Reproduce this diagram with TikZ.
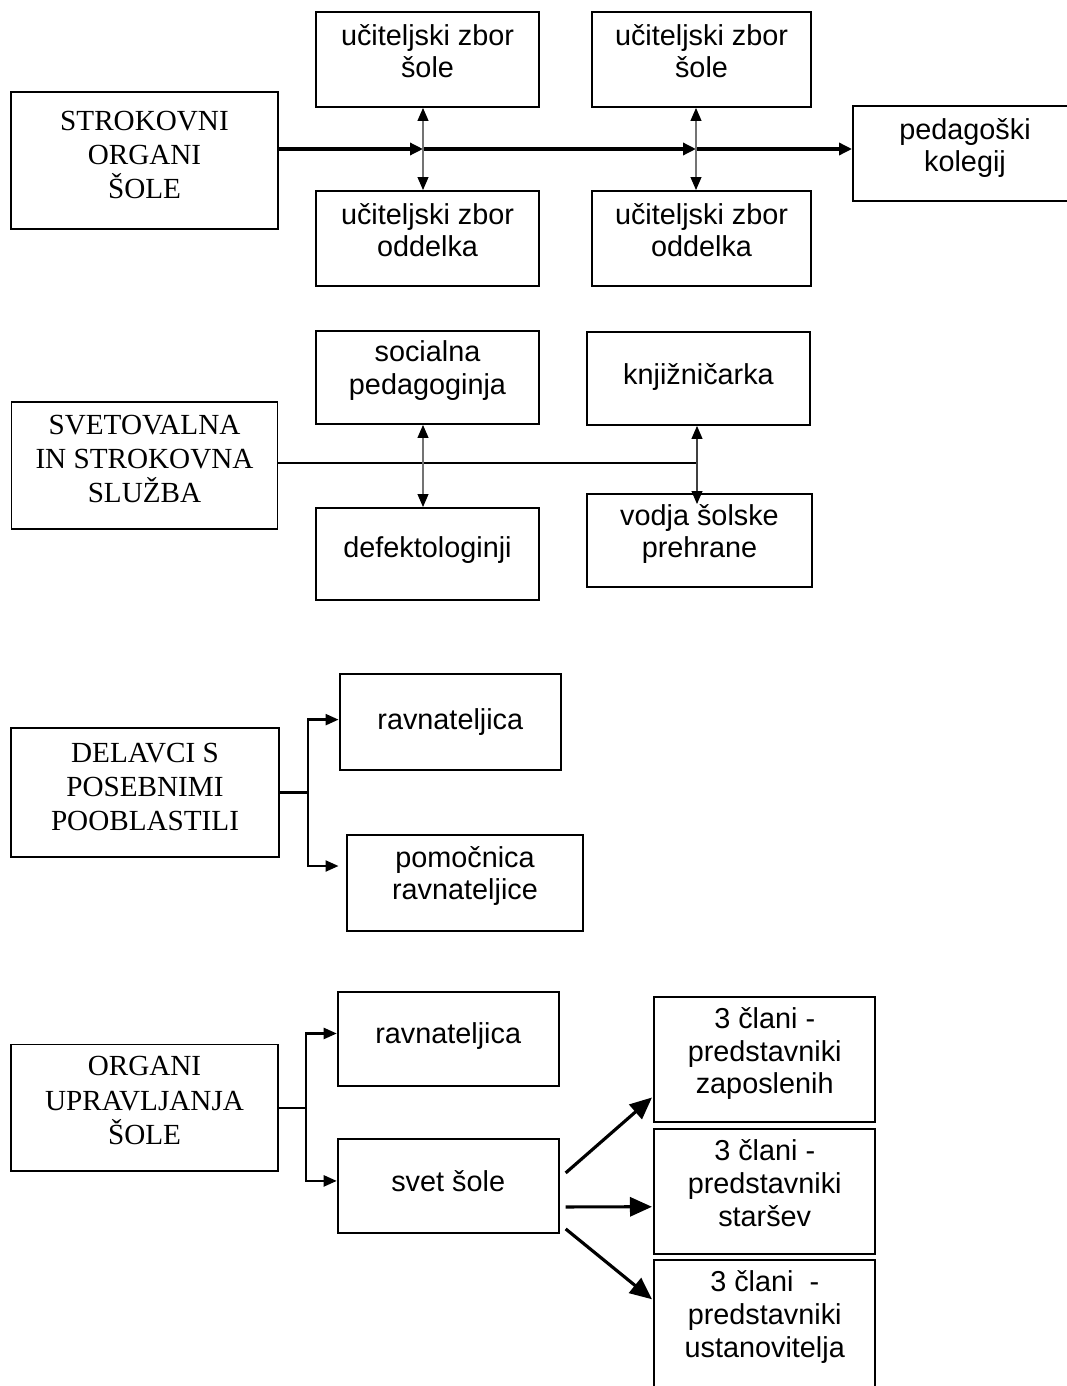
\documentclass[tikz,border=0pt]{standalone}
\usepackage{fontspec}
\usetikzlibrary{arrows.meta}
\newfontfamily\orgsans{Liberation Sans}
\newfontfamily\orgserif{Liberation Serif}

\begin{document}
\begin{tikzpicture}[
  x=0.2mm, y=-0.2mm,
  box/.style={draw=black, line width=1.1pt, inner sep=0pt, anchor=north, align=center, font=\orgsans\fontsize{16.4}{18.7}\selectfont},
  headbox/.style={box, font=\orgserif\fontsize{16.6}{19.6}\selectfont},
  oneline/.style={text height=10.4mm, text depth=8.6mm},
  twoline/.style={text height=13.2mm, text depth=5.8mm},
  threeline/.style={text height=19.4mm, text depth=5.6mm},
  mainline/.style={line width=2pt, -{Triangle[length=2.6mm, width=2.4mm]}},
  biarrow/.style={draw=black!55, line width=0.6pt, {Triangle[length=2.6mm, width=2.2mm, color=black]}-{Triangle[length=2.6mm, width=2.2mm, color=black]}},
  thinline/.style={draw=black, line width=1pt},
  branch/.style={draw=black, line width=1.3pt},
  arrowhead/.style={-{Triangle[length=2.6mm, width=2.2mm]}},
  bigarrow/.style={line width=1.8pt, -{Triangle[length=4.4mm, width=3.8mm]}}
]

\useasboundingbox (0,0) rectangle (1067,1386);

%% STROKOVNI ORGANI
\node[headbox, minimum width=53.4mm, text height=21.4mm, text depth=6mm] (strok) at (144.5,91) {STROKOVNI\\ORGANI\\ŠOLE};
\node[box, twoline, minimum width=44.6mm] (zbor1) at (427.5,11) {učiteljski zbor\\šole};
\node[box, twoline, minimum width=43.8mm] (zbor2) at (701.5,11) {učiteljski zbor\\šole};
\node[box, twoline, minimum width=44.6mm] (odd1) at (427.5,190) {učiteljski zbor\\oddelka};
\node[box, twoline, minimum width=43.8mm] (odd2) at (701.5,190) {učiteljski zbor\\oddelka};
\node[box, twoline, minimum width=44.8mm] (kolegij) at (965,105) {pedagoški\\kolegij};

% main line with two crossings
\coordinate (j1) at (423,149);
\coordinate (j2) at (696,149);
\draw[mainline] (strok.east |- j1) -- (j1);
\draw[mainline] (j1) -- (j2);
\draw[mainline] (j2) -- (kolegij.west |- j2);
\draw[biarrow] (zbor1.south -| j1) -- (odd1.north -| j1);
\draw[biarrow] (zbor2.south -| j2) -- (odd2.north -| j2);

%% SVETOVALNA SLUZBA
\node[headbox, minimum width=53.2mm, text height=20.2mm, text depth=5.2mm] (svet) at (144.5,401) {SVETOVALNA\\IN STROKOVNA\\SLUŽBA};
\node[box, minimum width=44.6mm, text height=12.7mm, text depth=5.9mm] (socped) at (427.5,330) {socialna\\pedagoginja};
\node[box, minimum width=44.6mm, text height=10.6mm, text depth=8mm] (knjiz) at (698.5,331) {knjižničarka};
\node[box, minimum width=44.6mm, text height=10mm, text depth=8.4mm] (defekt) at (427.5,507) {defektologinji};
\node[box, minimum width=45mm, text height=12.8mm, text depth=5.8mm] (prehrana) at (699.5,493) {vodja šolske\\prehrane};

\coordinate (s1) at (423,463);
\coordinate (s2) at (697,463);
\coordinate (s3) at (697,504);
\draw[thinline] (svet.east |- s1) -- (s2);
\draw[biarrow] (socped.south -| s1) -- (defekt.north -| s1);
\draw[biarrow, draw=black!75] (knjiz.south -| s2) -- (s3);

%% DELAVCI S POSEBNIMI POOBLASTILI
\node[headbox, minimum width=53.6mm, text height=20.6mm, text depth=5.2mm] (delavci) at (145,727) {DELAVCI S\\POSEBNIMI\\POOBLASTILI};
\node[box, minimum width=44.3mm, text height=11mm, text depth=8.1mm] (ravn1) at (450.3,673.4) {ravnateljica};
\node[box, minimum width=47.2mm, text height=13mm, text depth=6.2mm] (pomoc) at (465,834) {pomočnica\\ravnateljice};

\coordinate (d1) at (307.7,791);
\coordinate (d2) at (338.5,866);
\draw[branch] (delavci.east) -- (delavci.east -| d1);
\draw[branch, arrowhead] (delavci.east -| d1) |- ([yshift=0.5mm]ravn1.west);
\draw[branch, arrowhead] (delavci.east -| d1) |- (d2);

%% ORGANI UPRAVLJANJA
\node[headbox, minimum width=53.4mm, text height=20mm, text depth=5.3mm] (organi) at (144.5,1043.5) {ORGANI\\UPRAVLJANJA\\ŠOLE};
\node[box, minimum width=44.2mm, text height=10.3mm, text depth=8.5mm] (ravn2) at (448.2,991) {ravnateljica};
\node[box, minimum width=44.2mm, text height=10.5mm, text depth=8.4mm] (svetsole) at (448.2,1137.7) {svet šole};
\node[box, threeline, minimum width=44.3mm] (zapos) at (764.7,996) {3 člani -\\predstavniki\\zaposlenih};
\node[box, threeline, minimum width=44.3mm] (starsi) at (764.7,1128.3) {3 člani -\\predstavniki\\staršev};
\node[box, minimum width=44.3mm, text height=19.4mm, text depth=6.6mm] (ustan) at (764.7,1259.3) {3 člani\ \ -\\predstavniki\\ustanovitelja};

\coordinate (o1) at (306,1106.7);
\draw[branch] (organi.east) -- (organi.east -| o1);
\draw[branch, arrowhead] (organi.east -| o1) |- ([yshift=1.1mm]ravn2.west);
\draw[branch, arrowhead] (organi.east -| o1) |- ([yshift=1mm]svetsole.west);

% members of the council
\draw[bigarrow] ([shift={(6,-13)}]svetsole.east) -- ([shift={(-1,38)}]zapos.west);
\draw[bigarrow] ([shift={(6,21)}]svetsole.east) -- ([shift={(-1,15)}]starsi.west);
\draw[bigarrow] ([shift={(6,43)}]svetsole.east) -- ([shift={(-1,-26)}]ustan.west);

\end{tikzpicture}
\end{document}
